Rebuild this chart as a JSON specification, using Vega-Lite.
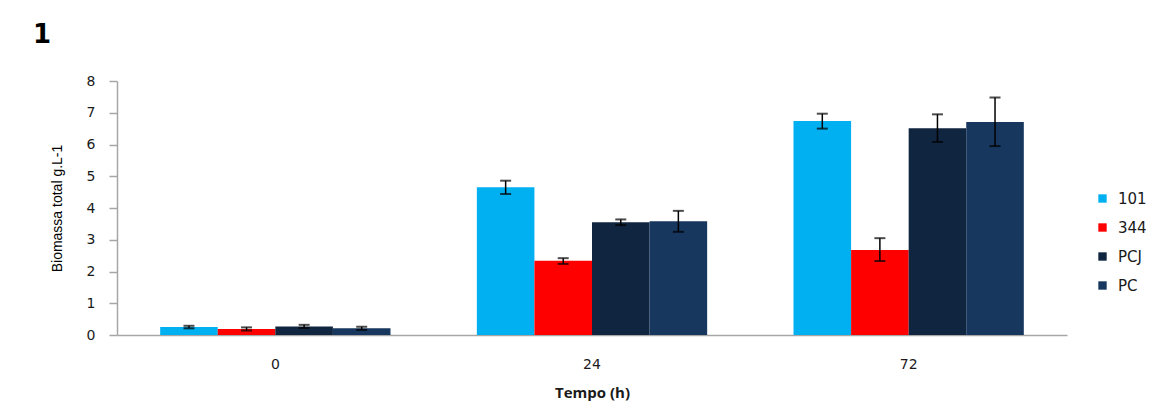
{
  "$schema": "https://vega.github.io/schema/vega-lite/v6.json",
  "autosize": "none",
  "width": 950,
  "height": 254,
  "padding": {"left": 117, "top": 81, "right": 100, "bottom": 82},
  "background": "white",
  "title": {"text": "1", "anchor": "start", "frame": "group", "fontSize": 26, "fontWeight": "bold", "font": "DejaVu Sans", "color": "black", "dx": -84, "offset": 26},
  "data": {"values": [
    {"t": "0", "s": "101", "v": 0.25, "lo": 0.21, "hi": 0.29},
    {"t": "0", "s": "344", "v": 0.19, "lo": 0.14, "hi": 0.24},
    {"t": "0", "s": "PCJ", "v": 0.27, "lo": 0.22, "hi": 0.32},
    {"t": "0", "s": "PC", "v": 0.21, "lo": 0.16, "hi": 0.26},
    {"t": "24", "s": "101", "v": 4.65, "lo": 4.44, "hi": 4.86},
    {"t": "24", "s": "344", "v": 2.34, "lo": 2.24, "hi": 2.42},
    {"t": "24", "s": "PCJ", "v": 3.55, "lo": 3.46, "hi": 3.64},
    {"t": "24", "s": "PC", "v": 3.58, "lo": 3.25, "hi": 3.91},
    {"t": "72", "s": "101", "v": 6.74, "lo": 6.5, "hi": 6.97},
    {"t": "72", "s": "344", "v": 2.68, "lo": 2.33, "hi": 3.05},
    {"t": "72", "s": "PCJ", "v": 6.51, "lo": 6.08, "hi": 6.95},
    {"t": "72", "s": "PC", "v": 6.71, "lo": 5.95, "hi": 7.48}
  ]},
  "encoding": {
    "x": {"field": "t", "type": "nominal", "sort": ["0", "24", "72"],
      "scale": {"paddingInner": 0, "paddingOuter": 0},
      "axis": {"title": "Tempo (h)", "labelAngle": 0, "ticks": false, "domainColor": "#a6a6a6", "domainWidth": 1.5,
        "labelFont": "DejaVu Sans", "labelFontSize": 14, "labelColor": "#1a1a1a", "labelPadding": 22,
        "titleFont": "Open Sans", "titleFontSize": 15, "titleFontWeight": "bold", "titleColor": "#1a1a1a", "titlePadding": 14}},
    "xOffset": {"field": "s", "type": "nominal", "sort": ["101", "344", "PCJ", "PC"],
      "scale": {"paddingInner": 0, "paddingOuter": 0.75}}
  },
  "resolve": {"axis": {"y": "independent"}},
  "layer": [
    {
      "mark": {"type": "bar"},
      "encoding": {
        "y": {"field": "v", "type": "quantitative", "scale": {"domain": [0, 8]},
          "axis": {"title": "Biomassa total  g.L-1", "values": [0, 1, 2, 3, 4, 5, 6, 7, 8], "grid": false, "labelOverlap": false,
            "domainColor": "#a6a6a6", "domainWidth": 1.5, "tickColor": "#a6a6a6", "tickSize": 8, "tickWidth": 1.5,
            "labelFont": "DejaVu Sans", "labelFontSize": 14, "labelColor": "#1a1a1a", "labelPadding": 14,
            "titleFont": "Liberation Sans", "titleFontSize": 14, "titleFontWeight": "normal", "titleColor": "#000000", "titlePadding": 22}},
        "color": {"field": "s", "type": "nominal", "sort": ["101", "344", "PCJ", "PC"],
          "scale": {"domain": ["101", "344", "PCJ", "PC"], "range": ["#00B0F0", "#FF0000", "#10253F", "#17375E"]},
          "legend": {"title": null, "orient": "none", "legendX": 978, "legendY": 110, "symbolType": "square", "symbolSize": 70,
            "labelFont": "DejaVu Sans", "labelFontSize": 15, "labelColor": "#1a1a1a", "rowPadding": 13, "labelOffset": 8}}
      }
    },
    {
      "mark": {"type": "rule", "color": "black", "strokeWidth": 1.5},
      "encoding": {"y": {"field": "lo", "type": "quantitative", "axis": null}, "y2": {"field": "hi"}}
    },
    {
      "mark": {"type": "tick", "color": "black", "thickness": 2, "size": 11, "orient": "horizontal"},
      "encoding": {"y": {"field": "lo", "type": "quantitative", "axis": null}}
    },
    {
      "mark": {"type": "tick", "color": "black", "thickness": 2, "size": 11, "orient": "horizontal"},
      "encoding": {"y": {"field": "hi", "type": "quantitative", "axis": null}}
    }
  ],
  "config": {"view": {"stroke": null}}
}
